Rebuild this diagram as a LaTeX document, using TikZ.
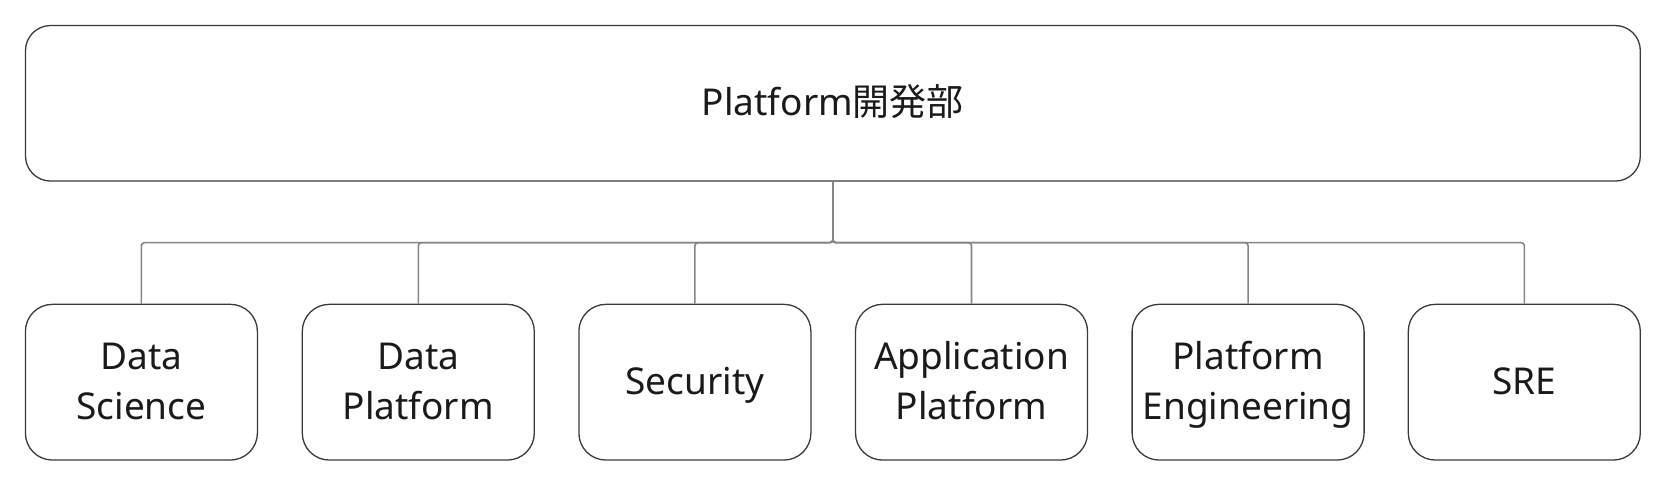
\documentclass[tikz,border=0pt]{standalone}
\usepackage{fontspec}
\setmainfont{Noto Sans}
\newfontfamily\cjk{Noto Sans CJK JP}
\definecolor{boxline}{HTML}{3A3A3A}
\definecolor{connline}{HTML}{858585}
\definecolor{txt}{HTML}{1A1A1A}
\newcommand\lnstrut{\rule[-10pt]{0pt}{45pt}}
\begin{document}
\begin{tikzpicture}[x=1pt,y=-1pt,
  topbox/.style={draw=boxline,line width=1.3pt,rounded corners=25pt,minimum width=1614.8pt,minimum height=155.5pt,inner sep=0pt,text=txt,font=\fontsize{37}{50}\selectfont},
  childbox/.style={draw=boxline,line width=1.3pt,rounded corners=27pt,minimum width=232pt,minimum height=155.7pt,inner sep=0pt,align=center,text=txt,font=\fontsize{37}{50}\selectfont},
  conn/.style={draw=connline,line width=1.6pt,rounded corners=3pt}]
\useasboundingbox (0,0) rectangle (1666,486);
\node[topbox] (top) at (832.9,103.3) {\lnstrut Platform{\cjk 開発部}};
\node[childbox] (c1) at (141.4,382.2) {\lnstrut Data\\\lnstrut Science};
\node[childbox] (c2) at (418.3,382.2) {\lnstrut Data\\\lnstrut Platform};
\node[childbox] (c3) at (694.9,382.2) {\lnstrut Security};
\node[childbox] (c4) at (971.5,382.2) {\lnstrut Application\\\lnstrut Platform};
\node[childbox] (c5) at (1248.1,382.2) {\lnstrut Platform\\\lnstrut Engineering};
\node[childbox] (c6) at (1524.3,382.2) {\lnstrut SRE};
\coordinate (bus) at (832.9,242.7);
\foreach \c in {c1,c2,c3,c4,c5,c6}{
  \draw[conn] (top.south) -- (bus) -| (\c.north);
}
\end{tikzpicture}
\end{document}
